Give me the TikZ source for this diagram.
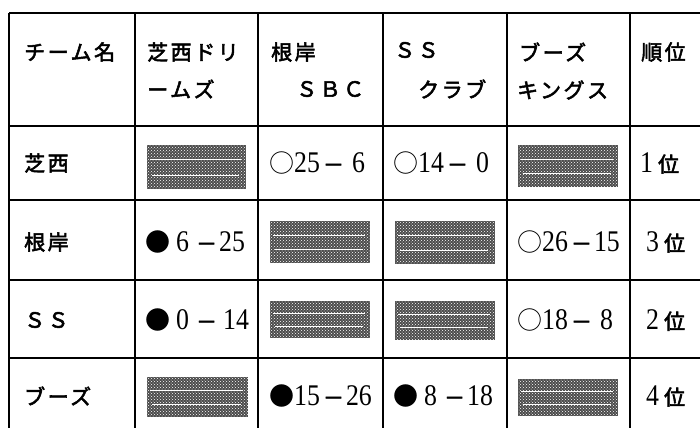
\documentclass[tikz,border=0pt]{standalone}
\usepackage{fontspec}
\setmainfont{Liberation Serif}
\newfontfamily\jpfont{Noto Sans CJK JP}[LetterSpace=12,FakeBold=2.5]
\newfontfamily\jpsym{Noto Sans CJK JP}
\newfontfamily\jpdash{Noto Sans CJK JP}[FakeBold=2]
\newfontfamily\numfont{Liberation Serif}[FakeStretch=0.86]
\usetikzlibrary{patterns}
\newcommand\jx[1]{{\jpsym\fontsize{25}{25}\selectfont #1}}
\newcommand\jd{\hspace{3pt}{\jpdash\fontsize{21}{21}\selectfont －}\hspace{2pt}}
\newcommand\jw[1]{{\jpfont\fontsize{21}{21}\selectfont #1}}
\tikzset{
  grid/.style={line width=1.3pt,black},
  hd/.style={anchor=west,inner sep=0pt,font=\jpfont\fontsize{21}{21}\selectfont},
  res/.style={anchor=west,inner sep=0pt,font=\numfont\fontsize{30}{30}\selectfont},
  blot/.style={fill=black!70},
  blotpat/.style={pattern=crosshatch dots,pattern color=white}
}
\begin{document}
\begin{tikzpicture}[x=1pt,y=-1pt]
\useasboundingbox (0,0) rectangle (700,428);
% grid lines
\foreach \yy in {13,126,200,280,358} \draw[grid] (9,\yy) -- (700,\yy);
\foreach \xx in {9,135,258,383,507,630} \draw[grid] (\xx,13) -- (\xx,428);
% blocked cells
\foreach \x/\y/\w/\h [count=\i] in {147/145/99/44, 518/145/100/42, 270/221/100/42, 395/221/100/43, 270/301/100/37, 395/301/100/39, 147/377/101/40, 518/379/100/37}{
  \fill[blot] (\x,\y) rectangle ++(\w,\h);
  \fill[blotpat] (\x,\y) rectangle ++(\w,\h);
  \draw[white,line width=0.7pt] (\x+3,\y+\h*0.33) -- ++(\w-8,0);
  \draw[white,line width=0.5pt] (\x+5,\y+\h*0.68) -- ++(\w-12,0);
}
% header
\node[hd] (h1) at (24,52) {チーム名};
\node[hd] (h2a) at (147,52) {芝西ドリ};
\node[hd] (h2b) at (147,89) {ームズ};
\node[hd] (h3a) at (271,52) {根岸};
\node[hd] (h3b) at (296,89) {ＳＢＣ};
\node[hd] (h4a) at (394,50) {ＳＳ};
\node[hd] (h4b) at (418,89) {クラブ};
\node[hd] (h5a) at (519,52) {ブーズ};
\node[hd] (h5b) at (517,90) {キングス};
\node[hd] (h6) at (641,52) {順位};
% row labels
\node[hd] (r1) at (24,163) {芝西};
\node[hd] (r2) at (24,242) {根岸};
\node[hd] (r3) at (24,320) {ＳＳ};
\node[hd] (r4) at (24,396) {ブーズ};
% results
\node[res] (c13) at (269,163) {\jx{○}25\jd\hspace{6pt}6};
\node[res] (c14) at (393,163) {\jx{○}14\jd\hspace{6pt}0};
\node[res] (c16) at (640,163) {1\,\jw{位}};
\node[res] (c22) at (145,242) {\jx{●}\hspace{6pt}6\hspace{4pt}\jd25};
\node[res] (c25) at (517,242) {\jx{○}26\jd15};
\node[res] (c26) at (646,242) {3\,\jw{位}};
\node[res] (c32) at (145,320) {\jx{●}\hspace{6pt}0\hspace{4pt}\jd\hspace{4pt}14};
\node[res] (c35) at (517,320) {\jx{○}18\jd\hspace{6pt}8};
\node[res] (c36) at (646,320) {2\,\jw{位}};
\node[res] (c43) at (269,396) {\jx{●}15\jd26};
\node[res] (c44) at (393,396) {\jx{●}\hspace{6pt}8\hspace{4pt}\jd18};
\node[res] (c46) at (646,396) {4\,\jw{位}};
\end{tikzpicture}
\end{document}
